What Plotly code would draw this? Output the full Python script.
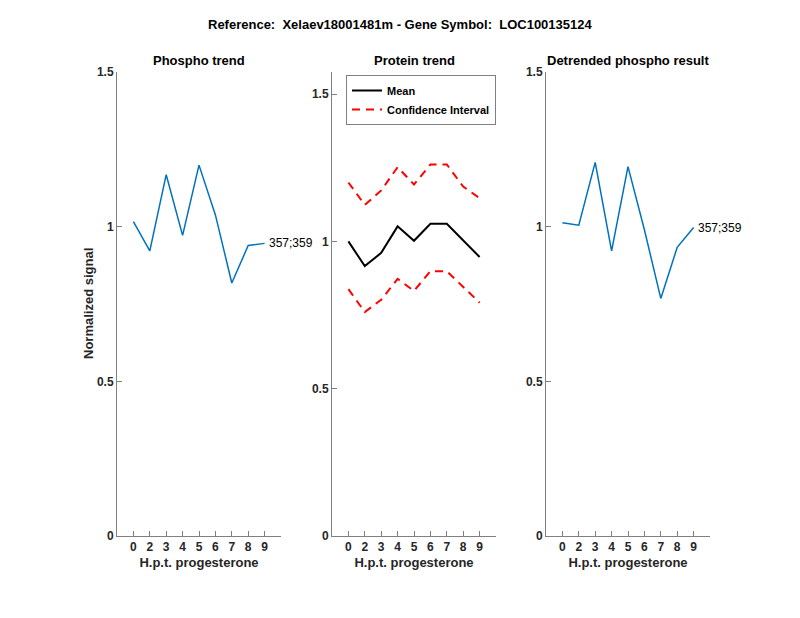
import plotly.graph_objects as go

# ---- data ----
timepoints = ["0", "2", "3", "4", "5", "6", "7", "8", "9"]
phospho_trend = [1.016, 0.922, 1.168, 0.972, 1.199, 1.038, 0.818, 0.939, 0.946]
protein_mean = [1.000, 0.916, 0.961, 1.051, 1.002, 1.060, 1.060, 1.003, 0.947]
protein_ci_upper = [1.200, 1.124, 1.173, 1.252, 1.193, 1.261, 1.261, 1.186, 1.147]
protein_ci_lower = [0.838, 0.760, 0.802, 0.873, 0.832, 0.899, 0.899, 0.846, 0.792]
detrended = [1.013, 1.005, 1.208, 0.922, 1.194, 0.990, 0.768, 0.933, 0.997]
site_label = "357;359"
y_ticks = [0, 0.5, 1, 1.5]
y_ticktext = ["0", "0.5", "1", "1.5"]

# sample positions along the x axis (1..n), labelled with the time points
xpos = list(range(1, len(timepoints) + 1))

FONT = "Liberation Sans, Arial, Helvetica, sans-serif"
BLUE = "#0072BD"
AXC = "#808080"
TXT = "#262626"

fig = go.Figure()

fig.add_trace(go.Scatter(x=xpos, y=phospho_trend, mode="lines",
                         line=dict(color=BLUE, width=1.5), xaxis="x", yaxis="y",
                         showlegend=False))
fig.add_trace(go.Scatter(x=xpos, y=protein_mean, mode="lines", name="Mean",
                         line=dict(color="black", width=2), xaxis="x2", yaxis="y2"))
fig.add_trace(go.Scatter(x=xpos, y=protein_ci_upper, mode="lines",
                         name="Confidence Interval",
                         line=dict(color="red", width=2, dash="8px,6px"),
                         xaxis="x2", yaxis="y2"))
fig.add_trace(go.Scatter(x=xpos, y=protein_ci_lower, mode="lines",
                         name="Confidence Interval", showlegend=False,
                         line=dict(color="red", width=2, dash="8px,6px"),
                         xaxis="x2", yaxis="y2"))
fig.add_trace(go.Scatter(x=xpos, y=detrended, mode="lines",
                         line=dict(color=BLUE, width=1.5), xaxis="x3", yaxis="y3",
                         showlegend=False))

W, H = 800, 618
OFF = 8  # page body offset


def px(x):
    return (x - OFF) / W


def py(y):
    return 1 - (y - OFF) / H


ybot = py(536)
ytop = py(72)
doms = [(px(117), px(281)), (px(332), px(496)), (px(546), px(710))]


def xax(dom, anchor):
    return dict(domain=list(dom), anchor=anchor, range=[0, len(timepoints) + 1],
                tickmode="array", tickvals=xpos, ticktext=timepoints,
                ticks="inside", ticklen=5, tickcolor=AXC, automargin=False,
                showline=True, linecolor=AXC, linewidth=1, showgrid=False,
                zeroline=False, tickfont=dict(family=FONT, size=12, color=TXT, weight="bold"),
                title=dict(text="H.p.t. progesterone", standoff=4,
                           font=dict(family=FONT, size=13, color=TXT, weight="bold")))


def yax(anchor, rng):
    return dict(domain=[ybot, ytop], anchor=anchor, range=rng, tickmode="array",
                tickvals=y_ticks, ticktext=y_ticktext, ticks="inside", ticklen=5,
                tickcolor=AXC, showline=True, linecolor=AXC, linewidth=1,
                showgrid=False, zeroline=False, automargin=False,
                tickfont=dict(family=FONT, size=12, color=TXT, weight="bold"))


fig.update_layout(
    width=W, height=H, plot_bgcolor="white", paper_bgcolor="white",
    margin=dict(l=0, r=0, t=0, b=0, autoexpand=False),
    xaxis=xax(doms[0], "y"), yaxis=yax("x", [0, 1.5]),
    xaxis2=xax(doms[1], "y2"), yaxis2=yax("x2", [0, 1.575]),
    xaxis3=xax(doms[2], "y3"), yaxis3=yax("x3", [0, 1.5]),
    showlegend=True,
    legend=dict(x=px(346), y=py(75), xanchor="left", yanchor="top",
                bgcolor="white", bordercolor=AXC, borderwidth=1,
                font=dict(family=FONT, size=11, color="black", weight="bold"),
                tracegroupgap=0, itemwidth=30),
)

ann = []
ann.append(dict(text="Reference:  Xelaev18001481m - Gene Symbol:  LOC100135124",
                x=px(400), y=py(25), xref="paper", yref="paper", showarrow=False,
                xanchor="center", yanchor="middle",
                font=dict(family=FONT, size=13, color="black", weight="bold")))
for title, dom in zip(["Phospho trend", "Protein trend", "Detrended phospho result"], doms):
    ann.append(dict(text=title, x=(dom[0] + dom[1]) / 2, y=py(60), xref="paper",
                    yref="paper", showarrow=False, xanchor="center", yanchor="middle",
                    font=dict(family=FONT, size=13, color="black", weight="bold")))
ann.append(dict(text="Normalized signal", x=px(88), y=(ybot + ytop) / 2, xref="paper",
                yref="paper", showarrow=False, textangle=-90, xanchor="center",
                yanchor="middle",
                font=dict(family=FONT, size=13, color=TXT, weight="bold")))
ann.append(dict(text=site_label, x=xpos[-1], y=phospho_trend[-1], xref="x", yref="y",
                xanchor="left", xshift=2, showarrow=False,
                font=dict(family=FONT, size=12, color="black")))
ann.append(dict(text=site_label, x=xpos[-1], y=detrended[-1], xref="x3", yref="y3",
                xanchor="left", xshift=2, showarrow=False,
                font=dict(family=FONT, size=12, color="black")))
fig.update_layout(annotations=ann)

fig.write_html("out.html")
